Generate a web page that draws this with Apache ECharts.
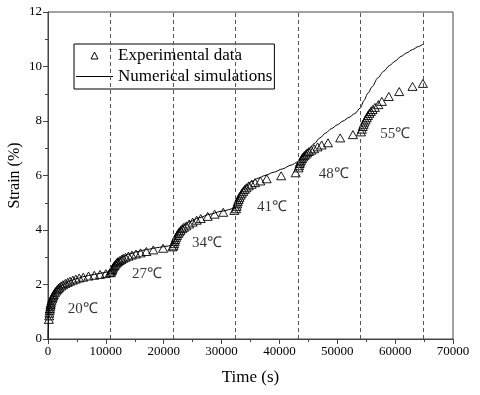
<!DOCTYPE html>
<html>
<head>
<meta charset="utf-8">
<script src="https://cdn.jsdelivr.net/npm/echarts@6/dist/echarts.min.js"></script>
<style>
html,body{margin:0;padding:0;background:#fff;}
#chart{width:480px;height:395px;}
</style>
</head>
<body>
<div id="chart"></div>
<script>
// Experimental data (time in s, strain in %)
var expTime = [
  150,200,250,300,350,400,450,500,600,700,800,900,1000,1200,1400,1600,1800,2000,2300,2600,3000,3400,3800,4300,4800,5400,6100,7000,8000,9000,10000,10700,
  10900,11000,11100,11200,11350,11500,11700,11900,12100,12400,12700,13000,13400,13900,14500,15200,16000,17000,18200,19900,21500,
  21700,21800,21900,22000,22150,22300,22500,22700,22900,23200,23500,23900,24400,25000,25700,26400,27600,28800,30300,32200,
  32500,32600,32700,32800,32950,33100,33300,33500,33750,34000,34300,34700,35200,35800,36700,37800,40300,42800,
  43300,43400,43500,43600,43750,43900,44100,44300,44550,44800,45100,45500,46000,46600,47300,48400,50500,52700,
  54100,54250,54400,54550,54700,54900,55100,55300,55550,55800,56100,56500,57100,57700,58900,60700,63000,64800
];
var expStrain = [
  0.72,0.85,0.95,1.05,1.12,1.2,1.26,1.32,1.4,1.47,1.53,1.58,1.63,1.7,1.76,1.81,1.86,1.9,1.95,1.99,2.04,2.08,2.12,2.16,2.2,2.24,2.27,2.31,2.34,2.37,2.4,2.43,
  2.45,2.5,2.55,2.6,2.65,2.7,2.75,2.8,2.84,2.88,2.92,2.96,3.0,3.04,3.08,3.12,3.16,3.21,3.27,3.33,3.38,
  3.42,3.5,3.58,3.65,3.73,3.8,3.87,3.93,3.99,4.05,4.1,4.15,4.22,4.29,4.36,4.42,4.5,4.58,4.65,4.72,
  4.78,4.87,4.96,5.04,5.12,5.2,5.28,5.35,5.42,5.49,5.55,5.62,5.68,5.74,5.8,5.88,5.99,6.1,
  6.28,6.36,6.44,6.5,6.56,6.62,6.68,6.73,6.78,6.83,6.88,6.93,6.98,7.05,7.12,7.2,7.38,7.5,
  7.6,7.7,7.8,7.88,7.96,8.04,8.12,8.2,8.28,8.35,8.42,8.5,8.6,8.72,8.9,9.08,9.27,9.38
];
// Numerical simulation (time in s, strain in %)
var simTime = [
  0,50,100,150,300,500,800,1200,1700,2300,3000,4000,5000,6000,7000,8000,9000,10000,10800,
  11000,11300,11700,12200,13000,14000,15500,17000,18500,20000,21600,
  21900,22300,22800,23500,24500,26000,28000,30000,32400,
  32700,33100,33600,34300,35200,36300,37500,39000,40500,42000,43200,
  44000,45000,46000,47000,48000,49000,50000,51000,52000,53000,54000,
  54600,55300,56000,57000,58000,59000,60000,61000,62000,63000,64000,64800
];
var simStrain = [
  0,0.4,0.65,0.85,1.1,1.3,1.5,1.68,1.83,1.95,2.05,2.15,2.22,2.28,2.33,2.37,2.41,2.45,2.48,
  2.58,2.7,2.82,2.92,3.03,3.12,3.21,3.28,3.34,3.39,3.44,
  3.65,3.86,4.02,4.17,4.3,4.44,4.58,4.69,4.8,
  5.05,5.3,5.48,5.64,5.78,5.9,6.0,6.12,6.24,6.38,6.5,
  6.7,6.95,7.17,7.38,7.56,7.72,7.86,8.0,8.13,8.27,8.48,
  8.75,9.02,9.25,9.58,9.82,10.03,10.2,10.37,10.5,10.62,10.73,10.82
];
// Temperature stage boundaries (s)
var stageBoundaries = [10800, 21600, 32400, 43200, 54000, 64800];
// Temperature labels and their anchor positions (data coords)
var tempLabels = ['20℃','27℃','34℃','41℃','48℃','55℃'];
var tempLabelTime = [6000, 17100, 27500, 38700, 49400, 60000];
var tempLabelStrain = [1.1, 2.39, 3.53, 4.86, 6.07, 7.51];

var FONT = '"Liberation Serif","Times New Roman",serif';

var expData = expTime.map(function(t, i){ return [t, expStrain[i]]; });
var simData = simTime.map(function(t, i){ return [t, simStrain[i]]; });
var labelData = tempLabels.map(function(n, i){ return {name: n, value: [tempLabelTime[i], tempLabelStrain[i]]}; });

var chart = echarts.init(document.getElementById('chart'), null, {renderer: 'canvas'});
chart.setOption({
  animation: false,
  backgroundColor: '#fff',
  grid: {left: 48, right: 27, top: 12, bottom: 56, outerBoundsMode: 'none', containLabel: false, show: true, borderColor: '#444', borderWidth: 1, backgroundColor: 'transparent'},
  legend: {
    orient: 'vertical',
    left: 74, top: 44,
    padding: [3, 2, 4, 2],
    itemGap: 4,
    itemWidth: 37, itemHeight: 7,
    borderColor: '#000', borderWidth: 1,
    backgroundColor: '#fff',
    textStyle: {fontFamily: FONT, fontSize: 17, color: '#000'},
    data: [
      {name: 'Experimental data', icon: 'path://M0,-1L1,1L-1,1Z', itemStyle: {color: 'rgba(0,0,0,0)', borderColor: '#000', borderWidth: 1}},
      {name: 'Numerical simulations', icon: 'path://M0,0H37V1H0Z', itemStyle: {color: '#000', borderWidth: 0}}
    ]
  },
  xAxis: {
    type: 'value', min: 0, max: 70000, interval: 10000,
    name: 'Time (s)', nameLocation: 'middle', nameGap: 30, nameMoveOverlap: false,
    nameTextStyle: {fontFamily: FONT, fontSize: 17, color: '#000'},
    axisLine: {show: true, onZero: false, lineStyle: {color: '#444', width: 1}},
    axisTick: {show: true, inside: false, length: 5, lineStyle: {color: '#444'}},
    minorTick: {show: true, splitNumber: 2, length: 3, lineStyle: {color: '#444'}},
    axisLabel: {fontFamily: FONT, fontSize: 13, color: '#000', margin: 6, formatter: function(v){ return String(v); }},
    splitLine: {show: false}
  },
  yAxis: {
    type: 'value', min: 0, max: 12, interval: 2,
    name: 'Strain (%)', nameLocation: 'middle', nameGap: 25, nameRotate: 90, nameMoveOverlap: false,
    nameTextStyle: {fontFamily: FONT, fontSize: 16, color: '#000'},
    axisLine: {show: true, onZero: false, lineStyle: {color: '#444', width: 1}},
    axisTick: {show: true, inside: false, length: 5, lineStyle: {color: '#444'}},
    minorTick: {show: true, splitNumber: 2, length: 3, lineStyle: {color: '#444'}},
    axisLabel: {fontFamily: FONT, fontSize: 13, color: '#000', margin: 6},
    splitLine: {show: false}
  },
  series: [
    {
      name: 'Experimental data',
      type: 'scatter',
      data: expData,
      symbol: 'triangle',
      symbolSize: [9, 8],
      itemStyle: {color: 'rgba(255,255,255,0)', borderColor: '#000', borderWidth: 0.9, opacity: 1},
      z: 3
    },
    {
      name: 'Numerical simulations',
      type: 'line',
      data: simData,
      showSymbol: false,
      symbol: 'none',
      smooth: 0.3,
      smoothMonotone: 'x',
      lineStyle: {color: '#000', width: 1},
      itemStyle: {color: '#000'},
      z: 4,
      markLine: {
        silent: true,
        symbol: ['none', 'none'],
        label: {show: false},
        lineStyle: {color: '#555', type: [4, 3], width: 1},
        data: stageBoundaries.map(function(b){ return [{coord: [b, 0]}, {coord: [b, 12]}]; })
      }
    },
    {
      name: 'labels',
      type: 'scatter',
      data: labelData,
      symbolSize: 0,
      silent: true,
      label: {show: true, position: 'inside', formatter: '{b}', fontFamily: FONT, fontSize: 15, color: '#000'},
      z: 5
    }
  ]
});
</script>
</body>
</html>
